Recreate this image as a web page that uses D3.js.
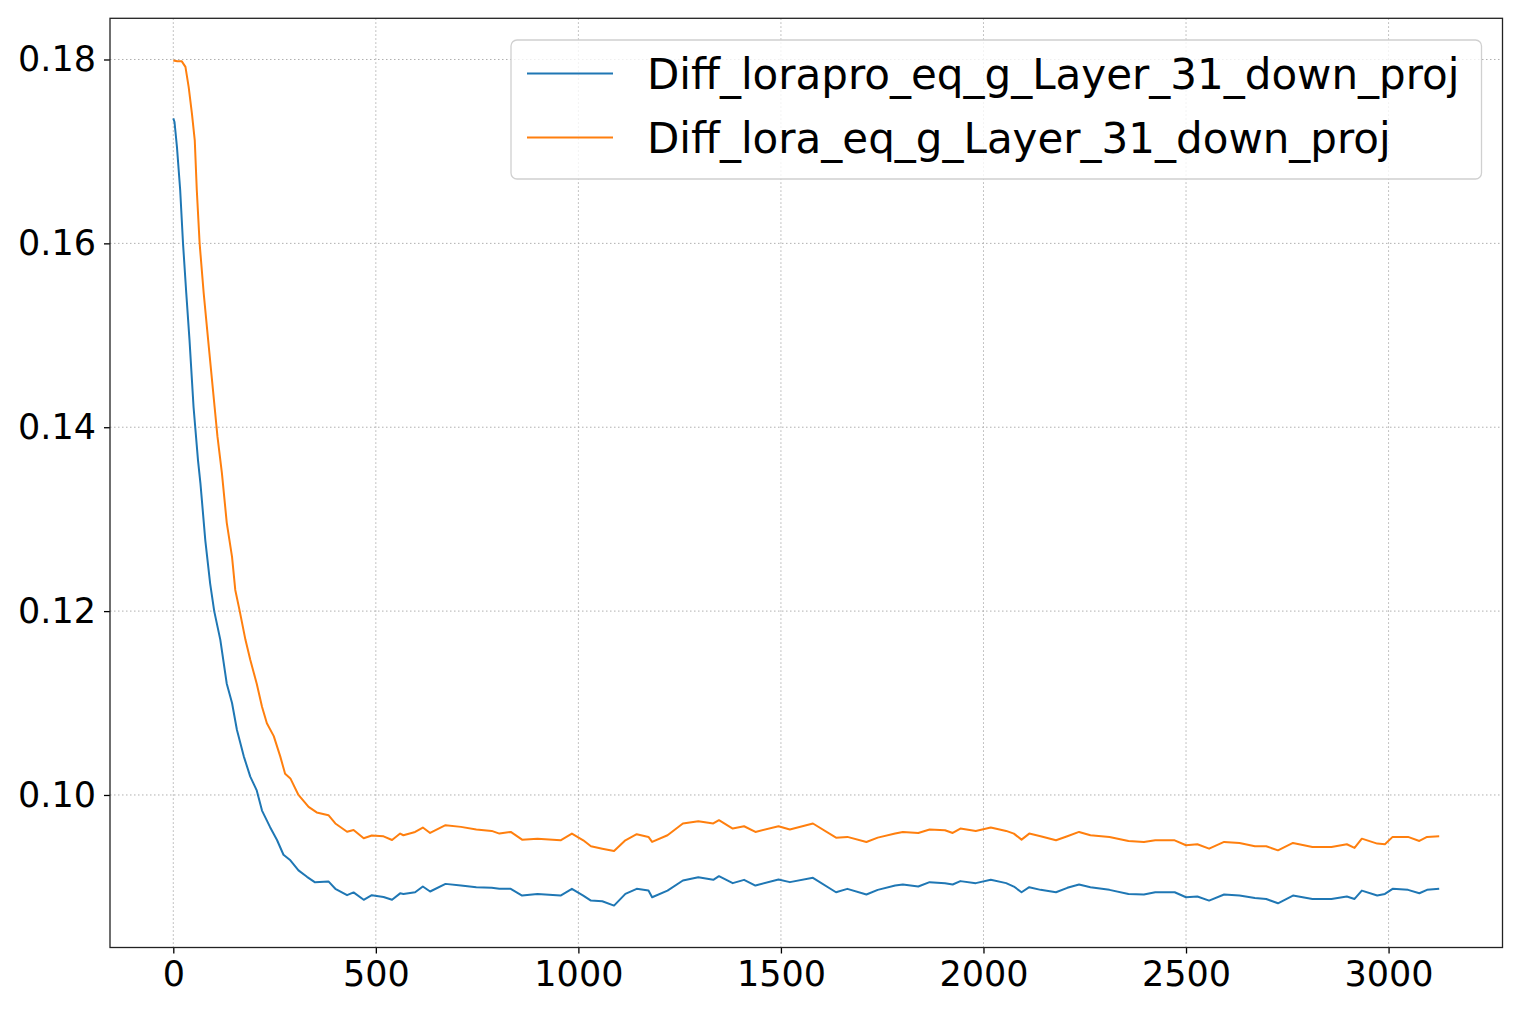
<!DOCTYPE html>
<html>
<head>
<meta charset="utf-8">
<script src="https://cdn.jsdelivr.net/npm/d3@7"></script>
<style>
  html, body { margin: 0; padding: 0; background: #fff; }
  svg { display: block; }
  text { font-family: "DejaVu Sans", sans-serif; }
</style>
</head>
<body>
<svg id="chart" width="1522" height="1015"></svg>
<script>
// ---- data ----
const seriesNames = ["Diff_lorapro_eq_g_Layer_31_down_proj", "Diff_lora_eq_g_Layer_31_down_proj"];
const seriesColors = ["#1f77b4", "#ff7f0e"];

const xTicks = [0, 500, 1000, 1500, 2000, 2500, 3000];
const yTicks = [0.10, 0.12, 0.14, 0.16, 0.18];

const loraproSteps = [0, 3, 9, 17, 24, 32, 40, 50, 61, 67, 79, 91, 101, 116, 132, 145, 157, 174, 190, 206, 219, 239, 256, 272, 289, 309, 330, 350, 383, 400, 429, 445, 470, 490, 519, 540, 560,
  568, 597, 616, 634, 672, 710, 748, 786, 805, 833, 861, 899, 956, 984, 1012, 1031, 1059, 1088, 1116, 1144, 1173, 1182, 1220, 1258, 1296, 1333, 1347, 1381, 1409, 1437, 1494, 1522, 1579, 1636, 1664, 1711, 1739,
  1782, 1801, 1839, 1867, 1905, 1924, 1943, 1981, 2018, 2056, 2075, 2094, 2113, 2141, 2179, 2207, 2236, 2264, 2311, 2358, 2396, 2424, 2472, 2500, 2528, 2557, 2594, 2632, 2670, 2698, 2727, 2764, 2812, 2859, 2897, 2916, 2934, 2972, 2991, 3010, 3048, 3076, 3095, 3125];
const loraproValues = [0.1736, 0.1732, 0.1705, 0.1658, 0.1600, 0.1546, 0.1495, 0.1422, 0.1364, 0.1339, 0.1277, 0.1230, 0.1200, 0.1169, 0.1121, 0.1100, 0.1071, 0.1042, 0.1020, 0.1005, 0.0983, 0.0965, 0.0951, 0.0935, 0.0929, 0.0918, 0.0911, 0.0905, 0.0906, 0.0898, 0.0891, 0.0894, 0.0886, 0.0891, 0.0889, 0.0886, 0.0893,
  0.08924, 0.08942, 0.09004, 0.08950, 0.09033, 0.09015, 0.08997, 0.08990, 0.08979, 0.08979, 0.08906, 0.08924, 0.08906, 0.08979, 0.08906, 0.08851, 0.08844, 0.08797, 0.08924, 0.08979, 0.08960, 0.08888, 0.08960, 0.09070, 0.09106, 0.09077, 0.09117, 0.09041, 0.09077, 0.09015, 0.09081, 0.09052, 0.09099, 0.08942, 0.08979, 0.08917, 0.08968,
  0.09015, 0.09026, 0.09004, 0.09052, 0.09041, 0.09026, 0.09063, 0.09041, 0.09077, 0.09041, 0.09004, 0.08942, 0.08997, 0.08968, 0.08942, 0.08990, 0.09026, 0.08997, 0.08968, 0.08924, 0.08917, 0.08942, 0.08942, 0.08888, 0.08895, 0.08851, 0.08917, 0.08906, 0.08880, 0.08869, 0.08822, 0.08906, 0.08869, 0.08869, 0.08895, 0.08869, 0.08960, 0.08906, 0.08924, 0.08979, 0.08968, 0.08931, 0.08968, 0.08979];

const loraSteps = [0, 10, 21, 30, 38, 46, 53, 58, 65, 75, 86, 102, 109, 120, 132, 145, 153, 164, 178, 190, 206, 219, 231, 248, 264, 276, 289, 309, 334, 354, 383, 400, 429, 445, 470, 490, 519, 540, 560,
  568, 597, 616, 634, 672, 710, 748, 786, 805, 833, 861, 899, 956, 984, 1012, 1031, 1059, 1088, 1116, 1144, 1173, 1182, 1220, 1258, 1296, 1333, 1347, 1381, 1409, 1437, 1494, 1522, 1579, 1636, 1664, 1711, 1739,
  1782, 1801, 1839, 1867, 1905, 1924, 1943, 1981, 2018, 2056, 2075, 2094, 2113, 2141, 2179, 2207, 2236, 2264, 2311, 2358, 2396, 2424, 2472, 2500, 2528, 2557, 2594, 2632, 2670, 2698, 2727, 2764, 2812, 2859, 2897, 2916, 2934, 2972, 2991, 3010, 3048, 3076, 3095, 3125];
const loraValues = [0.1799, 0.1798, 0.1798, 0.1792, 0.1770, 0.1741, 0.1712, 0.1658, 0.1600, 0.1546, 0.1495, 0.1422, 0.1390, 0.1350, 0.1296, 0.1259, 0.1223, 0.1200, 0.1169, 0.1147, 0.1121, 0.1096, 0.1078, 0.1064, 0.1042, 0.1023, 0.1018, 0.1000, 0.0987, 0.0981, 0.0978, 0.0969, 0.0960, 0.0962, 0.0953, 0.0956, 0.0955, 0.0951, 0.0958,
  0.09562, 0.09598, 0.09646, 0.09587, 0.09671, 0.09653, 0.09624, 0.09609, 0.09580, 0.09598, 0.09514, 0.09525, 0.09507, 0.09580, 0.09507, 0.09442, 0.09416, 0.09391, 0.09507, 0.09573, 0.09544, 0.09489, 0.09562, 0.09690, 0.09715, 0.09690, 0.09726, 0.09635, 0.09660, 0.09598, 0.09660, 0.09624, 0.09690, 0.09536, 0.09544, 0.09489, 0.09536,
  0.09580, 0.09598, 0.09587, 0.09624, 0.09617, 0.09587, 0.09635, 0.09609, 0.09646, 0.09609, 0.09580, 0.09514, 0.09580, 0.09551, 0.09507, 0.09551, 0.09598, 0.09562, 0.09544, 0.09500, 0.09489, 0.09507, 0.09507, 0.09453, 0.09464, 0.09416, 0.09489, 0.09478, 0.09442, 0.09442, 0.09398, 0.09478, 0.09434, 0.09434, 0.09464, 0.09424, 0.09525, 0.09471, 0.09464, 0.09544, 0.09544, 0.09500, 0.09544, 0.09551];

// ---- layout ----
const plot = { left: 110, right: 1502.5, top: 18.3, bottom: 947.5 };
const svg = d3.select("#chart");

const x = d3.scaleLinear().domain([-156.25, 3281.25]).range([plot.left, plot.right]);
const y = d3.scaleLinear().domain([0.08341, 0.18448]).range([plot.bottom, plot.top]);

// grid
const grid = svg.append("g");
grid.selectAll("line.vx").data(xTicks).enter().append("line")
  .attr("x1", d => x(d)).attr("x2", d => x(d))
  .attr("y1", plot.top).attr("y2", plot.bottom)
  .attr("stroke", "#b0b0b0").attr("stroke-width", 1).attr("stroke-dasharray", "1.5,2.5");
grid.selectAll("line.hy").data(yTicks).enter().append("line")
  .attr("y1", d => y(d)).attr("y2", d => y(d))
  .attr("x1", plot.left).attr("x2", plot.right)
  .attr("stroke", "#b0b0b0").attr("stroke-width", 1).attr("stroke-dasharray", "1.5,2.5");

// lines
const series = [
  { steps: loraproSteps, values: loraproValues },
  { steps: loraSteps, values: loraValues }
];
const lineGen = d3.line().x(d => x(d[0])).y(d => y(d[1]));
svg.append("defs").append("clipPath").attr("id", "clip")
  .append("rect").attr("x", plot.left).attr("y", plot.top)
  .attr("width", plot.right - plot.left).attr("height", plot.bottom - plot.top);
series.forEach((s, i) => {
  const pts = s.steps.map((st, j) => [st, s.values[j]]);
  svg.append("path").datum(pts)
    .attr("clip-path", "url(#clip)")
    .attr("fill", "none").attr("stroke", seriesColors[i])
    .attr("stroke-width", 2).attr("stroke-linejoin", "round")
    .attr("d", lineGen);
});

// axes
const fontSize = 35;
const legendFontSize = 42;
const xAxis = d3.axisBottom(x).tickValues(xTicks).tickSize(6).tickPadding(8).tickFormat(d3.format("d"));
const yAxis = d3.axisLeft(y).tickValues(yTicks).tickSize(6).tickPadding(8).tickFormat(d3.format(".2f"));

const gx = svg.append("g").attr("transform", `translate(0,${plot.bottom})`).call(xAxis);
const gy = svg.append("g").attr("transform", `translate(${plot.left},0)`).call(yAxis);
[gx, gy].forEach(g => {
  g.select(".domain").remove();
  g.selectAll(".tick line").attr("stroke", "#000").attr("stroke-width", 1.3);
  g.selectAll(".tick text").attr("fill", "#000")
    .style("font-family", "'DejaVu Sans', sans-serif").style("font-size", fontSize + "px");
});

// frame
svg.append("rect").attr("x", plot.left).attr("y", plot.top)
  .attr("width", plot.right - plot.left).attr("height", plot.bottom - plot.top)
  .attr("fill", "none").attr("stroke", "#222").attr("stroke-width", 1.3);

// legend
const legend = svg.append("g");
legend.append("rect")
  .attr("x", 511).attr("y", 40).attr("width", 1481.5 - 511).attr("height", 139)
  .attr("rx", 6).attr("ry", 6)
  .attr("fill", "#fff").attr("fill-opacity", 0.8)
  .attr("stroke", "#d0d0d0").attr("stroke-width", 1.3);
const rowsY = [73.5, 137.5];
seriesNames.forEach((name, i) => {
  legend.append("line")
    .attr("x1", 527).attr("x2", 613)
    .attr("y1", rowsY[i]).attr("y2", rowsY[i])
    .attr("stroke", seriesColors[i]).attr("stroke-width", 2);
  legend.append("text")
    .attr("x", 647).attr("y", rowsY[i])
    .attr("dy", "0.36em")
    .attr("fill", "#000")
    .style("font-size", legendFontSize + "px")
    .text(name);
});
</script>
</body>
</html>
